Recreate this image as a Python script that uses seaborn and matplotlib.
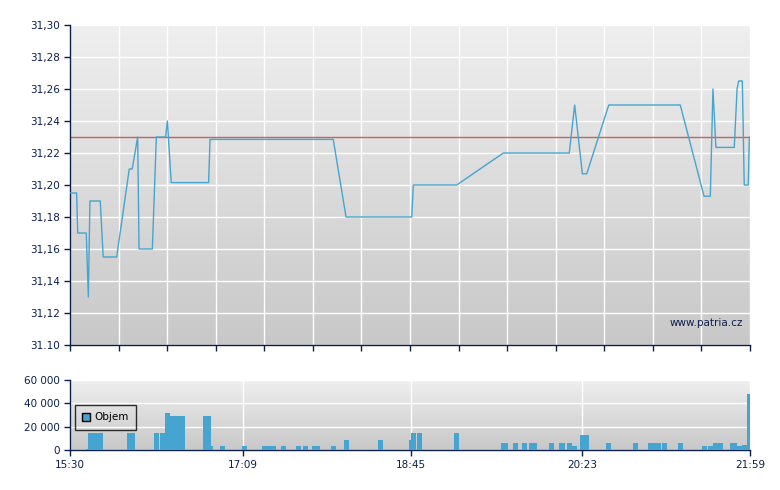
import numpy as np
import matplotlib
matplotlib.use('Agg')
import matplotlib.pyplot as plt
import seaborn as sns

# intraday price, minutes after 15:30
price_times = [0, 3.8, 4.4, 9.3, 10.5, 11.4, 17.3, 19.0, 26.7, 33.9, 35.6, 38.7, 39.5,
               47.1, 49.4, 54.7, 55.7, 57.9, 79.3, 80.1, 150.6, 157.9, 195.5, 196.4,
               221.2, 247.9, 285.6, 288.7, 293.1, 295.6, 308.2, 349.1, 362.7, 366.3,
               367.8, 369.5, 380.0, 381.6, 382.5, 384.6, 385.7, 388.0, 388.6]
prices = [31.195, 31.195, 31.17, 31.17, 31.13, 31.19, 31.19, 31.155, 31.155, 31.21,
          31.21, 31.23, 31.16, 31.16, 31.23, 31.23, 31.24, 31.2015, 31.2015, 31.2285,
          31.2285, 31.18, 31.18, 31.20, 31.20, 31.22, 31.22, 31.25, 31.207, 31.207,
          31.25, 31.25, 31.193, 31.193, 31.26, 31.2235, 31.2235, 31.26, 31.265,
          31.265, 31.20, 31.20, 31.23]
prev_close = 31.23

# traded volume
vol_times = [9.2, 10.3, 13.2, 15.7, 32.8, 34.0, 48.1, 51.4, 54.3, 57.2, 59.9, 62.8,
             76.1, 77.8, 79.1, 85.8, 98.4, 109.8, 112.7, 115.0, 120.7, 129.3, 133.3,
             138.4, 140.2, 149.3, 156.8, 176.2, 193.9, 195.3, 198.3, 219.7, 246.6,
             247.7, 253.4, 258.6, 262.6, 264.3, 274.0, 279.7, 280.3, 284.3, 287.2,
             291.8, 294.1, 306.6, 322.1, 330.7, 333.5, 335.2, 338.6, 347.8, 361.5,
             364.9, 367.8, 370.6, 377.6, 378.7, 381.6, 384.5, 387.3]
volumes = ([1000] + [15000] * 7 + [31300] + [29000] * 5 + [3500] * 12 + [8700] * 3
           + [15000] * 3 + [6000] * 10 + [3500] + [13000] * 2 + [6000] * 7
           + [3500] * 2 + [6000] * 4 + [3500, 4500, 47800])

price_ticks = [31.10, 31.12, 31.14, 31.16, 31.18, 31.20, 31.22, 31.24, 31.26, 31.28, 31.30]
price_labels = ['31.10', '31,12', '31,14', '31,16', '31,18', '31,20', '31,22',
                '31,24', '31,26', '31,28', '31,30']
vol_ticks = [0, 20000, 40000, 60000]
vol_labels = ['0', '20 000', '40 000', '60 000']
time_ticks = [0, 99, 195, 293, 389]
time_labels = ['15:30', '17:09', '18:45', '20:23', '21:59']

sns.set_style('white')
plt.rcParams['font.family'] = ['DejaVu Sans']

navy = '#0b1f4d'
blue = '#45a5d0'

fig = plt.figure(figsize=(7.8, 4.9), dpi=100)
ax = fig.add_axes([70 / 780, 145 / 490, 680 / 780, 320 / 490])
axv = fig.add_axes([70 / 780, 40 / 490, 680 / 780, 70 / 490])

grad = np.linspace(0, 1, 256).reshape(-1, 1)
cmap = matplotlib.colors.LinearSegmentedColormap.from_list('bg', ['#efefef', '#c8c8c8'])
for a in (ax, axv):
    a.imshow(grad, cmap=cmap, aspect='auto', extent=[0, 1, 0, 1],
             transform=a.transAxes, zorder=0)
    a.set_xlim(0, 389)
    for s in ('top', 'right'):
        a.spines[s].set_visible(False)
    for s in ('left', 'bottom'):
        a.spines[s].set_color(navy)
        a.spines[s].set_linewidth(1)
    a.tick_params(colors=navy, labelsize=7.5, length=4, width=1, direction='out',
                  left=True, bottom=True)
    a.grid(True, color='white', linewidth=1)
    a.set_axisbelow(True)

# price panel
sns.lineplot(x=price_times, y=prices, ax=ax, color=blue, linewidth=1,
             sort=False, estimator=None, zorder=3)
ax.axhline(prev_close, color='#c86060', linewidth=1, zorder=2)
ax.set_ylim(31.10, 31.30)
ax.set_yticks(price_ticks)
ax.set_yticklabels(price_labels)
ax.set_xticks(np.linspace(0, 389, 15))
ax.set_xticklabels([])
ax.text(0.99, 0.07, 'www.patria.cz', transform=ax.transAxes, ha='right',
        va='center', color=navy, fontsize=7.5)

# volume panel
axv.bar(vol_times, volumes, width=2.9, align='edge', color=blue,
        linewidth=0, label='Objem', zorder=3)
axv.set_ylim(0, 60000)
axv.set_yticks(vol_ticks)
axv.set_yticklabels(vol_labels)
axv.set_xticks(time_ticks)
axv.set_xticklabels(time_labels)
leg = axv.legend(loc='upper left', bbox_to_anchor=(0.007, 0.64), borderaxespad=0,
                 frameon=True, fancybox=False, fontsize=7.5, handlelength=0.8,
                 handleheight=0.8, handletextpad=0.4, borderpad=0.7)
leg.get_frame().set_edgecolor('black')
leg.get_frame().set_facecolor('none')
leg.get_frame().set_linewidth(1)
for h in leg.legend_handles:
    h.set_edgecolor('black')
    h.set_linewidth(1)
for t in leg.get_texts():
    t.set_color('black')

fig.savefig('out.png', dpi=100)
